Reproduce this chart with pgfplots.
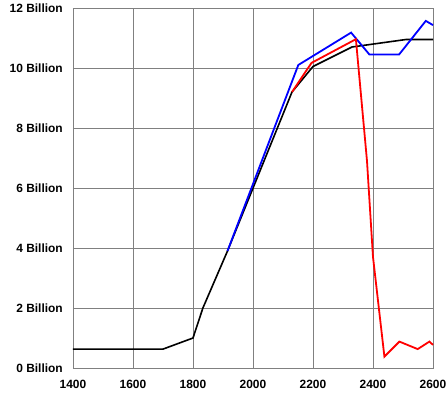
\documentclass[border=0pt]{standalone}
\usepackage{fontspec}
\setmainfont{Liberation Sans}
\usepackage{pgfplots}
\pgfplotsset{compat=1.18}
\definecolor{gridgray}{RGB}{128,128,128}
\begin{document}
\begin{tikzpicture}
\begin{axis}[
  at={(0,0)}, anchor=south west,
  scale only axis, width=360bp, height=360bp,
  xmin=1400, xmax=2600, ymin=0, ymax=12,
  xtick={1400,1600,1800,2000,2200,2400,2600},
  xticklabels={1400,1600,1800,2000,2200,2400,2600},
  ytick={0,2,4,6,8,10,12},
  yticklabels={0 Billion,2 Billion,4 Billion,6 Billion,8 Billion,10 Billion,12 Billion},
  major tick length=0pt,
  grid=major,
  major grid style={draw=gridgray, line width=0.8bp},
  axis line style={draw=gridgray, line width=0.8bp},
  tick label style={font=\fontsize{12}{14}\selectfont\bfseries, inner sep=0pt},
  yticklabel style={anchor=east, xshift=-10bp},
  xticklabel style={anchor=north, yshift=-12bp},
  clip=false,
]
\addplot[black, line width=1.6bp] coordinates {
  (1400,0.63) (1700,0.63) (1800,1.0) (1833,2.0) (1915,3.9)
  (2130,9.2) (2200,10.05) (2330,10.7) (2510,10.95) (2600,10.95)
};
\addplot[blue, line width=1.8bp] coordinates {
  (1915,3.9) (2151,10.1) (2327,11.18) (2388,10.45) (2487,10.45) (2576,11.57) (2600,11.43)
};
\addplot[red, line width=1.8bp] coordinates {
  (2130,9.2) (2195,10.17) (2343,10.96) (2380,6.9) (2400,3.7) (2438,0.38)
  (2488,0.88) (2549,0.63) (2588,0.88) (2600,0.77)
};
\end{axis}
\pgfresetboundingbox
\path[use as bounding box] (-73bp,-25bp) rectangle (374bp,368bp);
\end{tikzpicture}
\end{document}
